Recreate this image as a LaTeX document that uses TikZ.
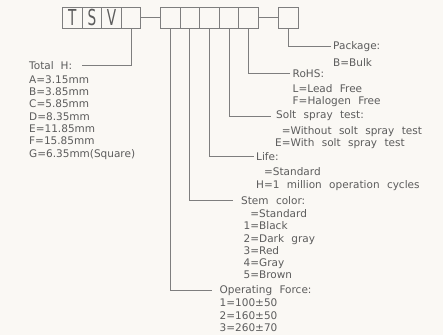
\documentclass[tikz,border=0pt]{standalone}
\usepackage{fontspec}
\setmainfont{DejaVu Sans}[WordSpace=2.2]
\definecolor{bg}{HTML}{FAF8F4}
\definecolor{ln}{HTML}{7E7E7E}
\definecolor{tx}{HTML}{5C5C5C}
\tikzset{
  cell/.style={draw=ln, line width=1pt, minimum width=19.6pt, minimum height=21pt, inner sep=0pt, anchor=west, text=tx, font=\fontsize{22}{22}\selectfont},
  lbl/.style={anchor=west, inner sep=2.5pt, text=tx, font=\fontsize{10.5}{12.3}\selectfont},
  body/.style={anchor=north west, inner sep=0pt, text=tx, align=left, font=\fontsize{10.5}{12.3}\selectfont},
  conn/.style={draw=ln, line width=1pt}
}
\begin{document}
\begin{tikzpicture}[x=1pt,y=-1pt]
\fill[bg] (0,0) rectangle (443,335);
\useasboundingbox (0,0) rectangle (443,335);
% top code boxes
\node[cell] (b1) at (62,17.8) {\scalebox{0.62}[1]{T}};
\node[cell] (b2) at (81.6,17.8) {\scalebox{0.62}[1]{S}};
\node[cell] (b3) at (101.2,17.8) {\scalebox{0.62}[1]{V}};
\node[cell] (b4) at (120.8,17.8) {};
\node[cell] (c1) at (160,17.8) {};
\node[cell] (c2) at (179.6,17.8) {};
\node[cell] (c3) at (199.2,17.8) {};
\node[cell] (c4) at (218.8,17.8) {};
\node[cell] (c5) at (238.4,17.8) {};
\node[cell] (p) at (278,17.8) {};
\draw[conn] (b4.east) -- (c1.west);
\draw[conn] (c5.east) -- (p.west);
% labels
\node[lbl, inner xsep=0pt] (tot) at (29,65.7) {Total\hspace{7pt}H:};
\coordinate (totend) at (82,65.7);
\node[body] (totb) at (29,75.3) {A=3.15mm\\B=3.85mm\\C=5.85mm\\D=8.35mm\\E=11.85mm\\F=15.85mm\\G=6.35mm(Square)};
\node[lbl] (pkg) at (330.5,46.7) {Package:};
\node[body] (pkgb) at (333,58.3) {B=Bulk};
\node[lbl] (rohs) at (290,73.3) {RoHS:};
\node[body] (rohsb) at (292.5,84.3) {L=Lead Free\\F=Halogen Free};
\node[lbl] (salt) at (273.5,116) {Solt spray test:};
\node[body] (saltb) at (275,126) {\hphantom{E}=Without solt spray test\\E=With solt spray test};
\node[lbl] (life) at (253.5,156.7) {Life:};
\node[body] (lifeb) at (256,167.7) {\hphantom{H}=Standard\\H=1 million operation cycles};
\node[lbl] (stem) at (238.5,200.7) {Stem color:};
\node[body] (stemb) at (243.5,209.3) {\hphantom{1}=Standard\\1=Black\\2=Dark gray\\3=Red\\4=Gray\\5=Brown};
\node[lbl] (force) at (217,290.7) {Operating Force:};
\node[body] (forceb) at (219.5,298.7) {1=100±50\\2=160±50\\3=260±70};
% connectors
\draw[conn] (b4.south) |- (totend);
\draw[conn] (p.south) |- (pkg.west);
\draw[conn] (c5.south) |- (rohs.west);
\draw[conn,shorten >=3pt] (c4.south) |- (salt.west);
\draw[conn] (c3.south) |- (life.west);
\draw[conn,shorten >=6pt] (c2.south) |- (stem.west);
\draw[conn,shorten >=5pt] (c1.south) |- (force.west);
\end{tikzpicture}
\end{document}
